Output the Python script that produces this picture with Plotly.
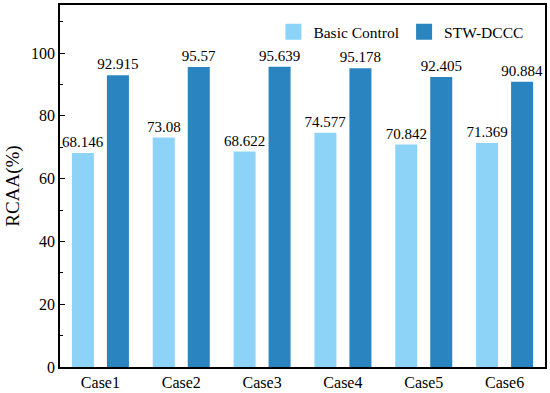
import plotly.graph_objects as go

categories = ["Case1", "Case2", "Case3", "Case4", "Case5", "Case6"]
basic_control = [68.146, 73.08, 68.622, 74.577, 70.842, 71.369]
stw_dccc = [92.915, 95.57, 95.639, 95.178, 92.405, 90.884]
basic_labels = ["68.146", "73.08", "68.622", "74.577", "70.842", "71.369"]
stw_labels = ["92.915", "95.57", "95.639", "95.178", "92.405", "90.884"]
series_names = ["Basic Control", "STW-DCCC"]
series_colors = ["#8DD3F8", "#2A84BF"]

FONT = "Liberation Serif"

fig = go.Figure()
for vals, labels, name, color in [(basic_control, basic_labels, series_names[0], series_colors[0]),
                                   (stw_dccc, stw_labels, series_names[1], series_colors[1])]:
    fig.add_trace(go.Bar(
        x=categories, y=vals, name=name, showlegend=False,
        marker=dict(color=color, line=dict(width=0)),
        text=labels, textposition="outside", cliponaxis=False,
        constraintext="none",
        textfont=dict(family=FONT, size=15, color="black"),
    ))
# legend entries with larger square swatches
for name, color in zip(series_names, series_colors):
    fig.add_trace(go.Scatter(
        x=[None], y=[None], mode="markers", name=name,
        marker=dict(symbol="square", size=18, color=color),
    ))

fig.update_layout(
    width=550, height=393,
    margin=dict(l=60, r=5, t=5, b=26),
    paper_bgcolor="white", plot_bgcolor="white",
    barmode="group", bargap=0.134, bargroupgap=0.371,
    font=dict(family=FONT, size=16, color="black"),
    showlegend=True,
    legend=dict(
        orientation="h", x=0.44, y=0.925, xanchor="left", yanchor="middle",
        font=dict(family=FONT, size=15.5, color="black"),
        bgcolor="rgba(0,0,0,0)", traceorder="normal", itemsizing="trace",
    ),
)
fig.update_xaxes(
    range=[-0.5, 5.5], showline=True, linecolor="black", linewidth=1.5,
    mirror=True, ticks="", showgrid=False, zeroline=False, automargin=False,
    tickfont=dict(family=FONT, size=16, color="black"),
)
fig.update_yaxes(
    range=[0, 115.3], showline=True, linecolor="black", linewidth=1.5,
    mirror=True, ticks="inside", ticklen=5, tickwidth=1.2, tickcolor="black",
    tickvals=[0, 20, 40, 60, 80, 100], showgrid=False, zeroline=False,
    automargin=False,
    minor=dict(tickvals=[10, 30, 50, 70, 90, 110], ticks="inside", ticklen=3,
               tickwidth=1, tickcolor="black"),
    tickfont=dict(family=FONT, size=16, color="black"),
    title=dict(text="RCAA(%)", font=dict(family=FONT, size=19, color="black"), standoff=6),
)

fig.write_html("out.html", config={"displayModeBar": False},
               post_script="document.body.style.margin='0';document.body.style.overflow='hidden';")
